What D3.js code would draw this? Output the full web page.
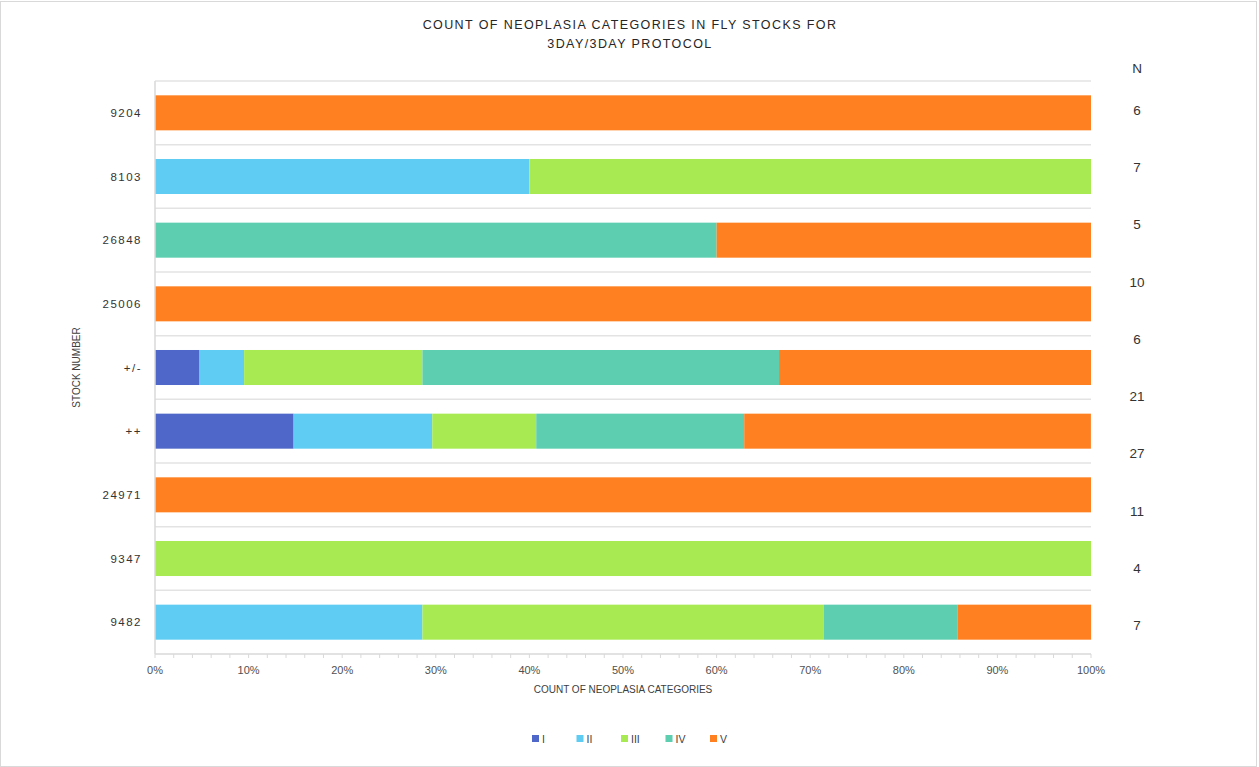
<!DOCTYPE html>
<html><head><meta charset="utf-8">
<script src="https://cdn.jsdelivr.net/npm/d3@7"></script>
<style>body{margin:0;background:#fff}svg{display:block;font-family:"Liberation Sans",Arial,sans-serif}</style>
</head><body><svg id="c" width="1259" height="767"></svg>
<script>
const stocks = ["9204","8103","26848","25006","+/-","++","24971","9347","9482"];
const seriesNames = ["I","II","III","IV","V"];
const serI   = [0,0,0,0,4.76,14.81,0,0,0];
const serII  = [0,40,0,0,4.76,14.81,0,0,28.57];
const serIII = [0,60,0,0,19.05,11.11,0,100,42.86];
const serIV  = [0,0,60,0,38.10,22.22,0,0,14.29];
const serV   = [100,0,40,100,33.33,37.04,100,0,14.29];
const nLabels = ["6","7","5","10","6","21","27","11","4","7"];
const xTicks = [0,10,20,30,40,50,60,70,80,90,100];
const colors = ["#4E67C8","#5ECCF3","#A7EA52","#5DCEAF","#FF8021"];

const svg = d3.select("#c");
const W=1259,H=767;
const m={left:155,right:1091,top:81,bottom:654};
svg.append("rect").attr("x",0.5).attr("y",1.5).attr("width",W-3).attr("height",H-2).attr("fill","#fff").attr("stroke","#d9d9d9");

const rows = stocks.map((s,i)=>({stock:s,I:serI[i],II:serII[i],III:serIII[i],IV:serIV[i],V:serV[i]}));
const stack = d3.stack().keys(seriesNames)(rows);
const x = d3.scaleLinear().domain([0,100]).range([m.left,m.right]);
const y = d3.scaleBand().domain(stocks).range([m.top,m.bottom]).paddingInner(0.45).paddingOuter(0.225);
const color = d3.scaleOrdinal().domain(seriesNames).range(colors);

// separators
const bandEdges = stocks.map((s,i)=>m.top + i*(m.bottom-m.top)/stocks.length);
svg.append("g").selectAll("line").data(bandEdges).join("line")
  .attr("x1",m.left).attr("x2",m.right).attr("y1",d=>d).attr("y2",d=>d)
  .attr("stroke","#e3e3e3").attr("stroke-width",1.5);

// bars
svg.append("g").selectAll("g").data(stack).join("g").attr("fill",d=>color(d.key))
 .selectAll("rect").data(d=>d).join("rect")
 .attr("x",d=>x(d[0])).attr("width",d=>x(d[1])-x(d[0]))
 .attr("y",d=>y(d.data.stock)).attr("height",y.bandwidth());

// x axis
const gx = svg.append("g").attr("transform",`translate(0,${m.bottom})`);
gx.append("line").attr("x1",m.left).attr("x2",m.right).attr("stroke","#d9d9d9").attr("stroke-width",1.5);
gx.selectAll("line.minor").data(d3.range(0,101,2)).join("line").attr("class","minor")
  .attr("x1",d=>x(d)).attr("x2",d=>x(d)).attr("y1",0).attr("y2",4).attr("stroke","#d9d9d9");
gx.selectAll("text").data(xTicks).join("text")
  .attr("x",d=>x(d)).attr("y",20).attr("text-anchor","middle")
  .attr("font-size",11).attr("fill","#505050").text(d=>d+"%");
// y axis line
svg.append("line").attr("x1",m.left).attr("x2",m.left).attr("y1",m.top).attr("y2",m.bottom).attr("stroke","#d9d9d9").attr("stroke-width",1.5);
svg.append("g").selectAll("text").data(stocks).join("text")
  .attr("x",142).attr("y",d=>y(d)+y.bandwidth()/2+4).attr("text-anchor","end")
  .attr("font-size",11.5).attr("letter-spacing",1.5).attr("fill","#333").text(d=>d);

// axis titles
svg.append("text").attr("x",(m.left+m.right)/2).attr("y",693).attr("text-anchor","middle")
 .attr("font-size",10).attr("fill","#404040").text("COUNT OF NEOPLASIA CATEGORIES");
svg.append("text").attr("transform",`translate(80,${(m.top+m.bottom)/2}) rotate(-90)`).attr("text-anchor","middle")
 .attr("font-size",10).attr("fill","#404040").text("STOCK NUMBER");

// title
const t = svg.append("text").attr("text-anchor","middle").attr("font-size",12.5).attr("fill","#262626").attr("letter-spacing",1.4).attr("font-weight",500);
t.append("tspan").attr("x",630).attr("y",29).text("COUNT OF NEOPLASIA CATEGORIES IN FLY STOCKS FOR");
t.append("tspan").attr("x",630).attr("y",48).text("3DAY/3DAY PROTOCOL");

// N column
svg.append("text").attr("x",1137).attr("y",73).attr("text-anchor","middle").attr("font-size",13.5).attr("fill","#333").text("N");
const ny = d3.scalePoint().domain(d3.range(nLabels.length)).range([110,625]);
svg.append("g").selectAll("text").data(nLabels).join("text")
  .attr("x",1137).attr("y",(d,i)=>ny(i)+5).attr("text-anchor","middle").attr("font-size",13.5).attr("fill","#333").text(d=>d);

// legend
const lx = d3.scalePoint().domain(seriesNames).range([532,710]);
const lg = svg.append("g").selectAll("g").data(seriesNames).join("g").attr("transform",d=>`translate(${lx(d)},739)`);
lg.append("rect").attr("x",0).attr("y",-4).attr("width",7).attr("height",7).attr("fill",d=>color(d));
lg.append("text").attr("x",10).attr("y",3.5).attr("font-size",10.5).attr("fill","#404040").text(d=>d);
</script></body></html>
